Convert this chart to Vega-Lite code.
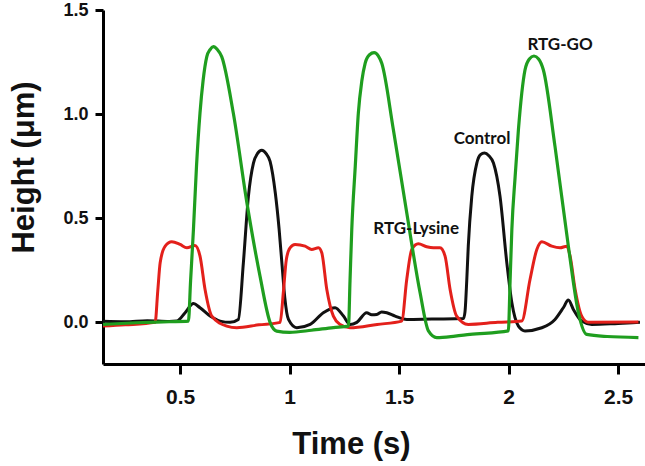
{
  "$schema": "https://vega.github.io/schema/vega-lite/v6.json",
  "width": 542,
  "height": 354,
  "autosize": {"type": "none"},
  "padding": {"left": 103, "top": 10, "right": 0, "bottom": 102},
  "background": "white",
  "config": {
    "view": {"stroke": null},
    "axis": {"grid": false, "domainColor": "#000", "domainWidth": 3, "tickColor": "#000", "tickWidth": 3, "labelFont": "Liberation Sans", "labelFontWeight": "bold", "labelColor": "#111", "titleFont": "Liberation Sans", "titleFontWeight": "bold", "titleColor": "#111"}
  },
  "datasets": {
    "control": [
      {"t": 0.148, "h": 0.005}, {"t": 0.25, "h": 0.003}, {"t": 0.35, "h": 0.008}, {"t": 0.45, "h": 0.004}, {"t": 0.485, "h": 0.006},
      {"t": 0.523, "h": 0.046}, {"t": 0.561, "h": 0.09}, {"t": 0.591, "h": 0.07}, {"t": 0.637, "h": 0.03}, {"t": 0.683, "h": 0.006},
      {"t": 0.728, "h": 0.0}, {"t": 0.766, "h": 0.014}, {"t": 0.789, "h": 0.286}, {"t": 0.812, "h": 0.605}, {"t": 0.835, "h": 0.765},
      {"t": 0.853, "h": 0.81}, {"t": 0.873, "h": 0.826}, {"t": 0.893, "h": 0.81}, {"t": 0.911, "h": 0.773}, {"t": 0.935, "h": 0.62},
      {"t": 0.952, "h": 0.45}, {"t": 0.966, "h": 0.27}, {"t": 0.978, "h": 0.12}, {"t": 0.995, "h": 0.014}, {"t": 1.033, "h": -0.026},
      {"t": 1.094, "h": -0.01}, {"t": 1.154, "h": 0.046}, {"t": 1.208, "h": 0.07}, {"t": 1.246, "h": 0.03}, {"t": 1.276, "h": -0.01},
      {"t": 1.307, "h": 0.0}, {"t": 1.352, "h": 0.046}, {"t": 1.375, "h": 0.036}, {"t": 1.398, "h": 0.038}, {"t": 1.42, "h": 0.05},
      {"t": 1.444, "h": 0.046}, {"t": 1.482, "h": 0.03}, {"t": 1.535, "h": 0.014}, {"t": 1.65, "h": 0.016}, {"t": 1.794, "h": 0.018},
      {"t": 1.801, "h": 0.05}, {"t": 1.809, "h": 0.2}, {"t": 1.816, "h": 0.366}, {"t": 1.832, "h": 0.605}, {"t": 1.855, "h": 0.765},
      {"t": 1.872, "h": 0.805}, {"t": 1.89, "h": 0.813}, {"t": 1.91, "h": 0.8}, {"t": 1.931, "h": 0.765}, {"t": 1.961, "h": 0.605},
      {"t": 1.992, "h": 0.286}, {"t": 2.015, "h": 0.094}, {"t": 2.045, "h": -0.018}, {"t": 2.075, "h": -0.041}, {"t": 2.152, "h": -0.026},
      {"t": 2.212, "h": 0.014}, {"t": 2.25, "h": 0.07}, {"t": 2.273, "h": 0.107}, {"t": 2.296, "h": 0.062}, {"t": 2.334, "h": 0.006},
      {"t": 2.38, "h": -0.01}, {"t": 2.5, "h": -0.005}, {"t": 2.6, "h": 0.0}
    ],
    "lysine": [
      {"t": 0.148, "h": -0.018}, {"t": 0.25, "h": -0.012}, {"t": 0.386, "h": 0.0}, {"t": 0.398, "h": 0.15}, {"t": 0.409, "h": 0.286},
      {"t": 0.432, "h": 0.366}, {"t": 0.462, "h": 0.387}, {"t": 0.5, "h": 0.374}, {"t": 0.531, "h": 0.358}, {"t": 0.568, "h": 0.369},
      {"t": 0.591, "h": 0.318}, {"t": 0.614, "h": 0.158}, {"t": 0.645, "h": 0.03}, {"t": 0.713, "h": -0.018}, {"t": 0.759, "h": -0.026},
      {"t": 0.86, "h": -0.012}, {"t": 0.957, "h": 0.0}, {"t": 0.972, "h": 0.15}, {"t": 0.985, "h": 0.3}, {"t": 1.002, "h": 0.358},
      {"t": 1.025, "h": 0.374}, {"t": 1.071, "h": 0.366}, {"t": 1.101, "h": 0.35}, {"t": 1.132, "h": 0.358}, {"t": 1.147, "h": 0.334},
      {"t": 1.17, "h": 0.158}, {"t": 1.2, "h": 0.03}, {"t": 1.231, "h": -0.01}, {"t": 1.276, "h": -0.026}, {"t": 1.4, "h": -0.01},
      {"t": 1.512, "h": 0.006}, {"t": 1.535, "h": 0.206}, {"t": 1.558, "h": 0.35}, {"t": 1.588, "h": 0.377}, {"t": 1.626, "h": 0.363},
      {"t": 1.657, "h": 0.358}, {"t": 1.687, "h": 0.358}, {"t": 1.71, "h": 0.318}, {"t": 1.733, "h": 0.158}, {"t": 1.763, "h": 0.03},
      {"t": 1.816, "h": -0.01}, {"t": 1.95, "h": 0.0}, {"t": 2.06, "h": 0.006}, {"t": 2.098, "h": 0.206}, {"t": 2.129, "h": 0.35},
      {"t": 2.152, "h": 0.387}, {"t": 2.197, "h": 0.366}, {"t": 2.235, "h": 0.358}, {"t": 2.266, "h": 0.366}, {"t": 2.281, "h": 0.318},
      {"t": 2.304, "h": 0.158}, {"t": 2.334, "h": 0.03}, {"t": 2.364, "h": 0.0}, {"t": 2.593, "h": 0.002}
    ],
    "go": [
      {"t": 0.148, "h": -0.01}, {"t": 0.3, "h": -0.002}, {"t": 0.45, "h": 0.003}, {"t": 0.538, "h": 0.006}, {"t": 0.548, "h": 0.2},
      {"t": 0.561, "h": 0.446}, {"t": 0.575, "h": 0.75}, {"t": 0.591, "h": 1.006}, {"t": 0.605, "h": 1.16}, {"t": 0.622, "h": 1.276},
      {"t": 0.637, "h": 1.31}, {"t": 0.652, "h": 1.324}, {"t": 0.67, "h": 1.31}, {"t": 0.69, "h": 1.276}, {"t": 0.743, "h": 1.005},
      {"t": 0.805, "h": 0.575}, {"t": 0.865, "h": 0.222}, {"t": 0.911, "h": 0.0}, {"t": 0.941, "h": -0.042}, {"t": 1.0, "h": -0.048},
      {"t": 1.1, "h": -0.038}, {"t": 1.2, "h": -0.025}, {"t": 1.269, "h": -0.018}, {"t": 1.276, "h": 0.2}, {"t": 1.284, "h": 0.446},
      {"t": 1.3, "h": 0.75}, {"t": 1.314, "h": 1.005}, {"t": 1.33, "h": 1.16}, {"t": 1.345, "h": 1.244}, {"t": 1.365, "h": 1.285},
      {"t": 1.386, "h": 1.295}, {"t": 1.405, "h": 1.28}, {"t": 1.421, "h": 1.244}, {"t": 1.474, "h": 0.925}, {"t": 1.535, "h": 0.526},
      {"t": 1.596, "h": 0.142}, {"t": 1.634, "h": -0.041}, {"t": 1.672, "h": -0.073}, {"t": 1.756, "h": -0.066}, {"t": 1.824, "h": -0.058},
      {"t": 1.999, "h": -0.041}, {"t": 2.007, "h": 0.2}, {"t": 2.015, "h": 0.446}, {"t": 2.03, "h": 0.7}, {"t": 2.045, "h": 0.925},
      {"t": 2.075, "h": 1.212}, {"t": 2.095, "h": 1.265}, {"t": 2.116, "h": 1.279}, {"t": 2.137, "h": 1.265}, {"t": 2.159, "h": 1.212},
      {"t": 2.212, "h": 0.845}, {"t": 2.273, "h": 0.366}, {"t": 2.319, "h": 0.046}, {"t": 2.357, "h": -0.058}, {"t": 2.45, "h": -0.068},
      {"t": 2.593, "h": -0.073}
    ],
    "labels": [
      {"t": 2.235, "h": 1.332, "text": "RTG-GO"},
      {"t": 1.879, "h": 0.882, "text": "Control"},
      {"t": 1.578, "h": 0.45, "text": "RTG-Lysine"}
    ]
  },
  "encoding": {
    "x": {"field": "t", "type": "quantitative", "scale": {"domain": [0.148, 2.623], "nice": false, "zero": false},
      "axis": {"values": [0.5, 1, 1.5, 2, 2.5], "format": "~g", "tickSize": 10, "labelFontSize": 21, "labelPadding": 12,
        "title": "Time (s)", "titleFontSize": 31, "titleX": 248, "titleY": 89, "titleBaseline": "alphabetic", "titleAlign": "center"}},
    "y": {"field": "h", "type": "quantitative", "scale": {"domain": [-0.2, 1.5], "nice": false, "zero": false},
      "axis": {"values": [0, 0.5, 1, 1.5], "format": ".1f", "tickSize": 8, "labelFontSize": 18, "labelPadding": 7,
        "title": "Height (μm)", "titleFontSize": 31, "titleAngle": 270, "titleX": -70, "titleY": 157, "titleBaseline": "alphabetic", "titleAlign": "center"}}
  },
  "layer": [
    {"data": {"name": "control"}, "mark": {"type": "line", "color": "#111111", "strokeWidth": 3, "interpolate": "monotone"}},
    {"data": {"name": "lysine"}, "mark": {"type": "line", "color": "#e3201b", "strokeWidth": 3, "interpolate": "monotone"}},
    {"data": {"name": "go"}, "mark": {"type": "line", "color": "#1f9e1f", "strokeWidth": 3.2, "interpolate": "monotone"}},
    {"data": {"name": "labels"}, "mark": {"type": "text", "font": "Lato", "fontWeight": "bold", "fontSize": 17, "color": "#111", "align": "center", "baseline": "middle"},
      "encoding": {"text": {"field": "text", "type": "nominal"}}}
  ]
}
